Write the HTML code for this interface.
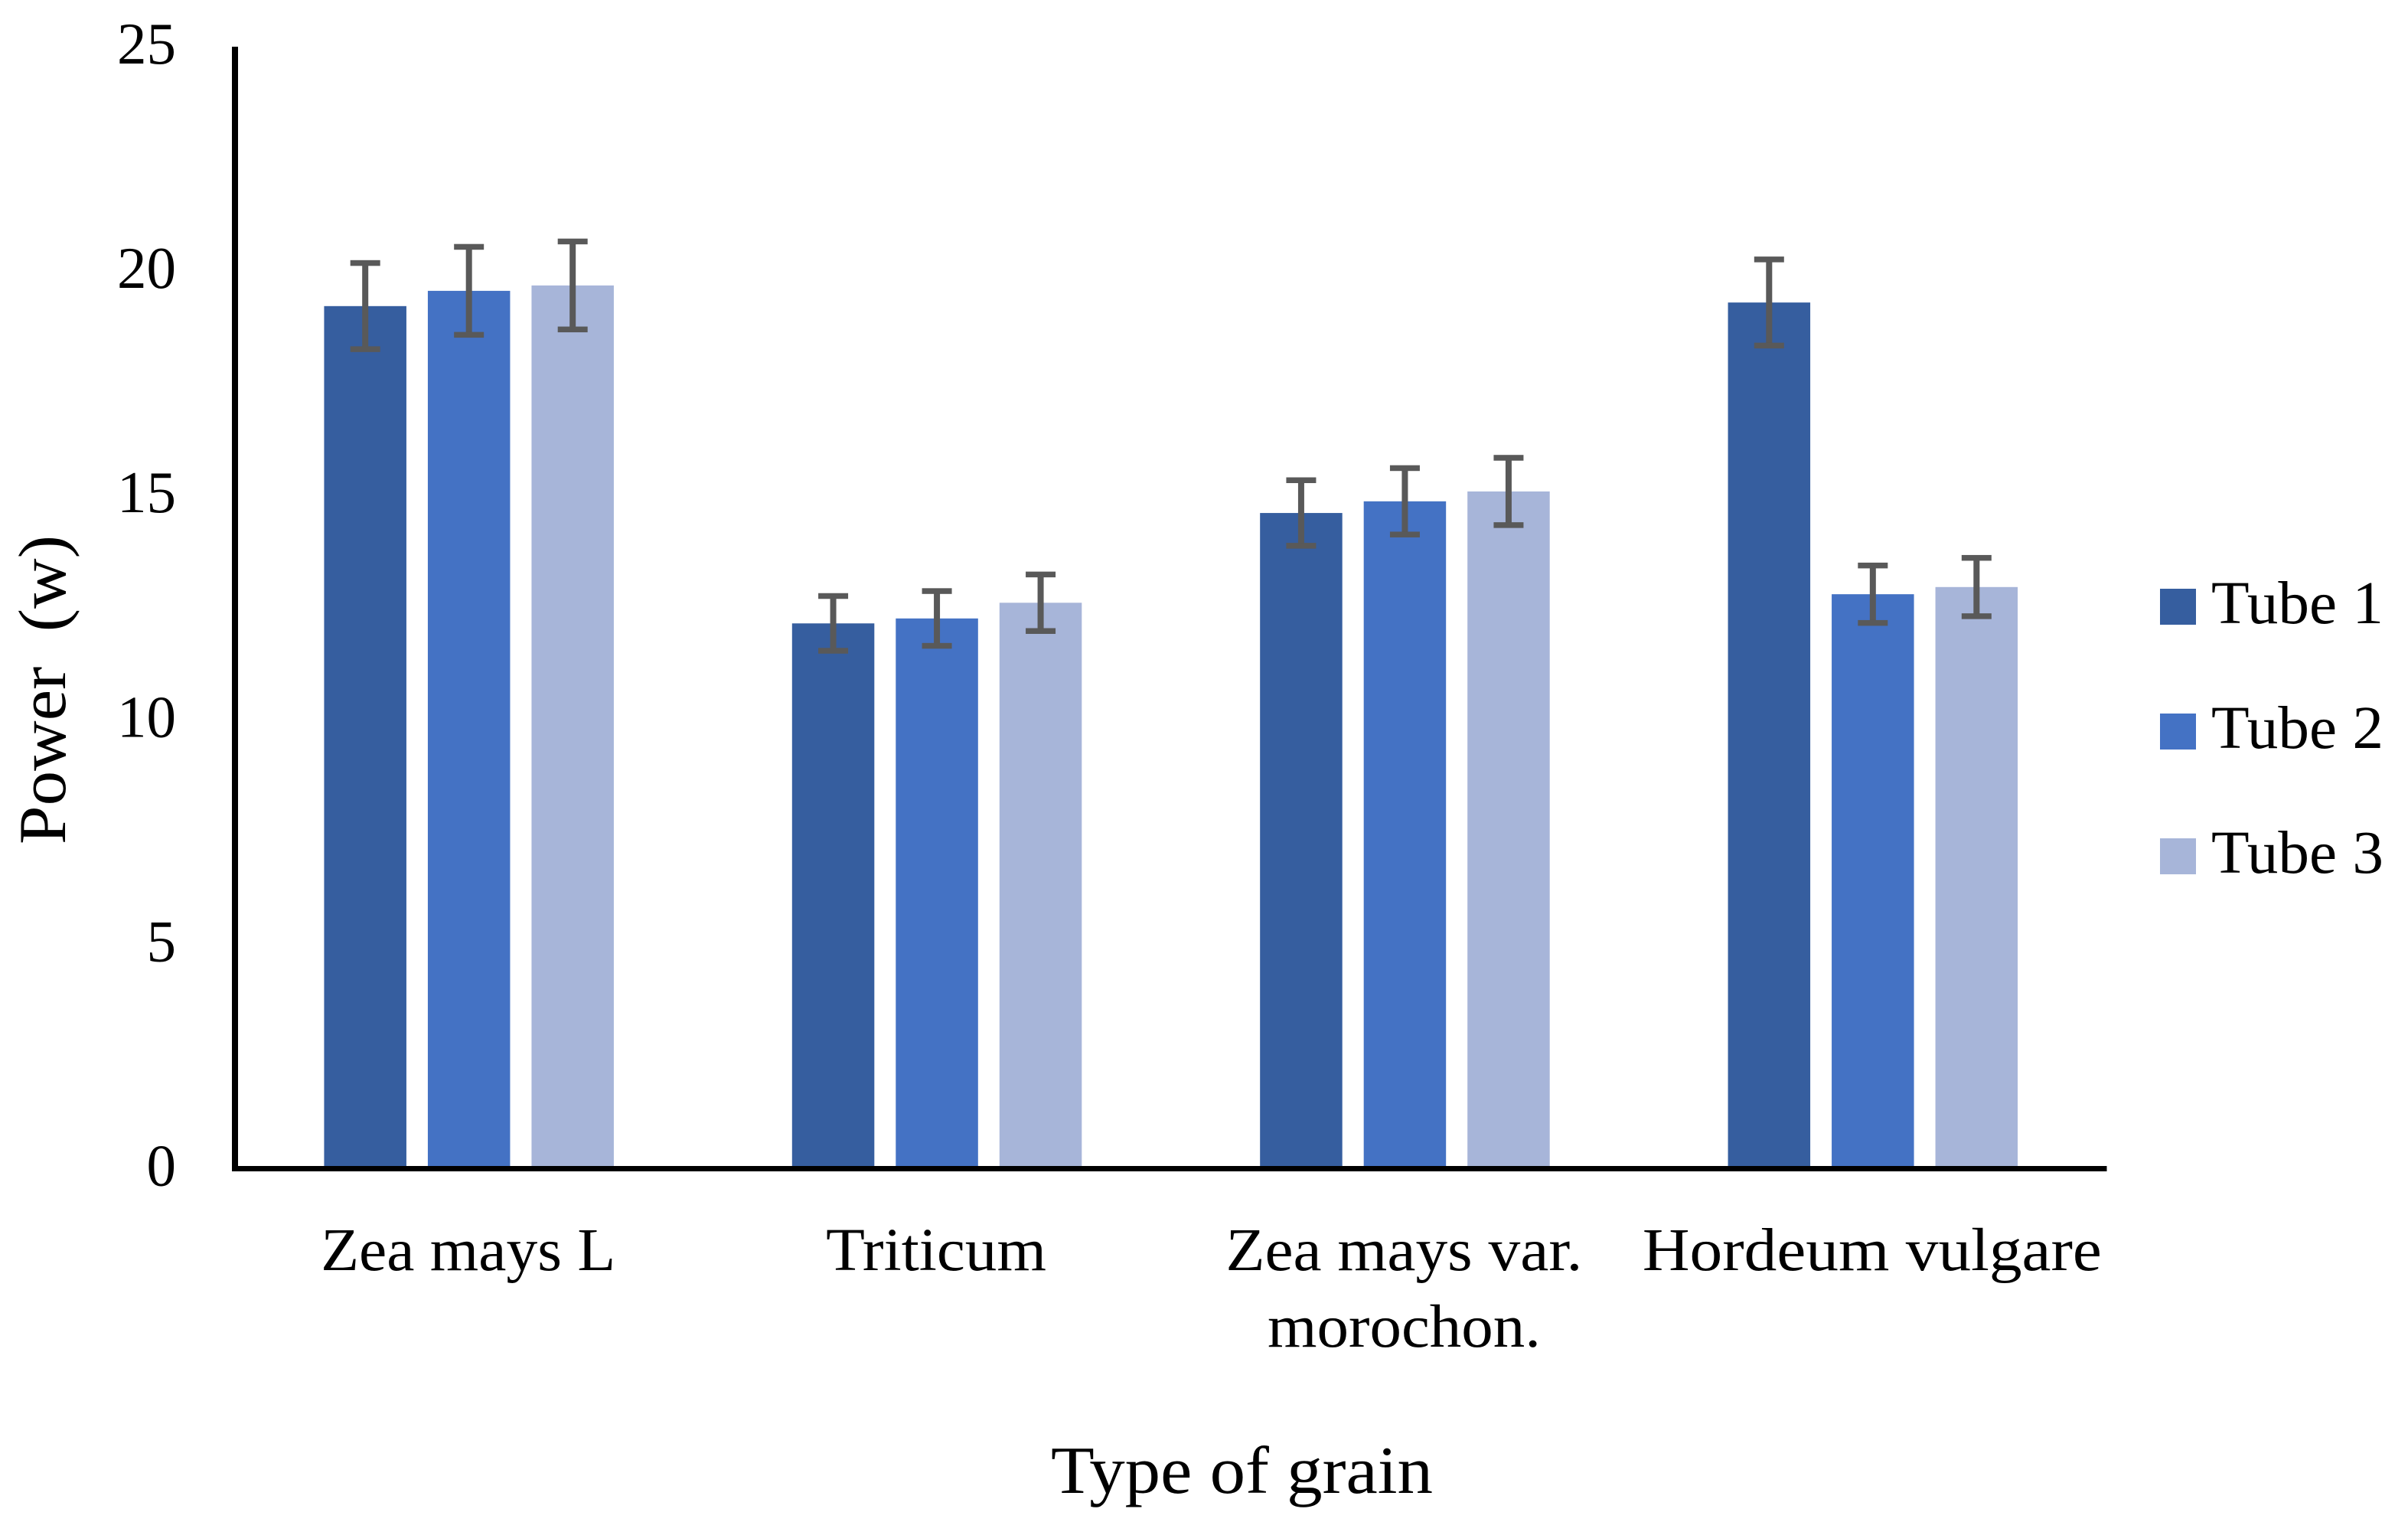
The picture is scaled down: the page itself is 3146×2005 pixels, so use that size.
<!DOCTYPE html>
<html lang="en">
<head>
<meta charset="utf-8">
<title>Power by type of grain</title>
<style>
  html, body { margin: 0; padding: 0; background: #ffffff; }
  body { width: 3146px; height: 2005px; overflow: hidden; }
  svg { display: block; }
  text { font-family: "Liberation Serif", serif; fill: #000000; }
</style>
</head>
<body>
<svg id="chart" xmlns="http://www.w3.org/2000/svg" width="3146" height="2005" viewBox="0 0 3146 2005">
  <rect x="0" y="0" width="3146" height="2005" fill="#ffffff"/>
  <g id="bars"></g>
  <g id="errors"></g>
  <rect x="303" y="61" width="8" height="1469" fill="#000000"/>
  <rect x="303" y="1523" width="2449.5" height="7" fill="#000000"/>
  <g id="yticks"></g>
  <g id="xticks"></g>
  <text transform="translate(85 1103) rotate(-90)" font-size="88" textLength="404" lengthAdjust="spacingAndGlyphs">Power&#160;&#160;(w)</text>
  <text x="1373" y="1950" font-size="88" textLength="499" lengthAdjust="spacingAndGlyphs">Type of grain</text>
  <g id="legend"></g>
</svg>
<script>
// Chart data
const categories = [["Zea mays L"], ["Triticum"], ["Zea mays var.", "morochon."], ["Hordeum vulgare"]];
const seriesNames = ["Tube 1", "Tube 2", "Tube 3"];
const tube1 = [19.22, 12.15, 14.61, 19.30];
const tube2 = [19.56, 12.26, 14.87, 12.80];
const tube3 = [19.68, 12.61, 15.09, 12.96];
const err1 = [0.96, 0.61, 0.73, 0.96];
const err2 = [0.98, 0.61, 0.74, 0.64];
const err3 = [0.98, 0.63, 0.75, 0.65];
const yTicks = [0, 5, 10, 15, 20, 25];

// Layout and style
const seriesValues = [tube1, tube2, tube3];
const seriesErrors = [err1, err2, err3];
const seriesColors = ["#365E9F", "#4472C4", "#A7B5D9"];
const labelWidths = { "Zea mays L": 385, "Triticum": 288, "Zea mays var.": 466, "morochon.": 357, "Hordeum vulgare": 600 };
const legendRowY = [769, 932, 1095];
const plotLeft = 307, plotRight = 2752.5, plotZero = 1526.5, plotTop = 61, yMax = 25;
const barWidth = 107.5, barStep = 135.5, capWidth = 39, capThick = 7.5, stemWidth = 8;
const errColor = "#595959";
const NS = "http://www.w3.org/2000/svg";

function yScale(v) { return plotZero - v * (plotZero - plotTop) / yMax; }
function xBand(i) { return plotLeft + (plotRight - plotLeft) / categories.length * (i + 0.5); }
function make(tag, attrs) {
  const el = document.createElementNS(NS, tag);
  for (const k in attrs) el.setAttribute(k, attrs[k]);
  return el;
}

const barsG = document.getElementById("bars");
const errG = document.getElementById("errors");
categories.forEach(function (cat, c) {
  seriesValues.forEach(function (vals, s) {
    const cx = xBand(c) + (s - 1) * barStep;
    const top = yScale(vals[c]);
    const bar = make("rect", { x: cx - barWidth / 2, y: top, width: barWidth, height: plotZero - top, fill: seriesColors[s] });
    
    
    barsG.appendChild(bar);

    const hi = yScale(vals[c] + seriesErrors[s][c]);
    const lo = yScale(vals[c] - seriesErrors[s][c]);
    const eg = make("g", { fill: errColor });
    
    
    eg.appendChild(make("rect", { x: cx - stemWidth / 2, y: hi, width: stemWidth, height: lo - hi }));
    eg.appendChild(make("rect", { x: cx - capWidth / 2, y: hi - capThick / 2, width: capWidth, height: capThick }));
    eg.appendChild(make("rect", { x: cx - capWidth / 2, y: lo - capThick / 2, width: capWidth, height: capThick }));
    errG.appendChild(eg);
  });
});

const yG = document.getElementById("yticks");
yTicks.forEach(function (t) {
  const el = make("text", { x: 230, y: yScale(t) + 22, "font-size": 77, "text-anchor": "end" });
  
  
  el.textContent = String(t);
  yG.appendChild(el);
});

const xG = document.getElementById("xticks");
categories.forEach(function (lines, c) {
  lines.forEach(function (line, l) {
    const el = make("text", {
      x: xBand(c) - 1, y: 1659 + l * 100, "font-size": 79, "text-anchor": "middle",
      textLength: labelWidths[line], lengthAdjust: "spacingAndGlyphs"
    });
    
    
    el.textContent = line;
    xG.appendChild(el);
  });
});

const legG = document.getElementById("legend");
seriesNames.forEach(function (name, s) {
  const row = make("g", {});
  
  
  const sw = make("rect", { x: 2822, y: legendRowY[s], width: 47, height: 47, fill: seriesColors[s] });
  
  
  const tx = make("text", { x: 2889, y: legendRowY[s] + 45, "font-size": 79, textLength: 225, lengthAdjust: "spacingAndGlyphs" });
  
  
  tx.textContent = name;
  row.appendChild(sw);
  row.appendChild(tx);
  legG.appendChild(row);
});
</script>
</body>
</html>
